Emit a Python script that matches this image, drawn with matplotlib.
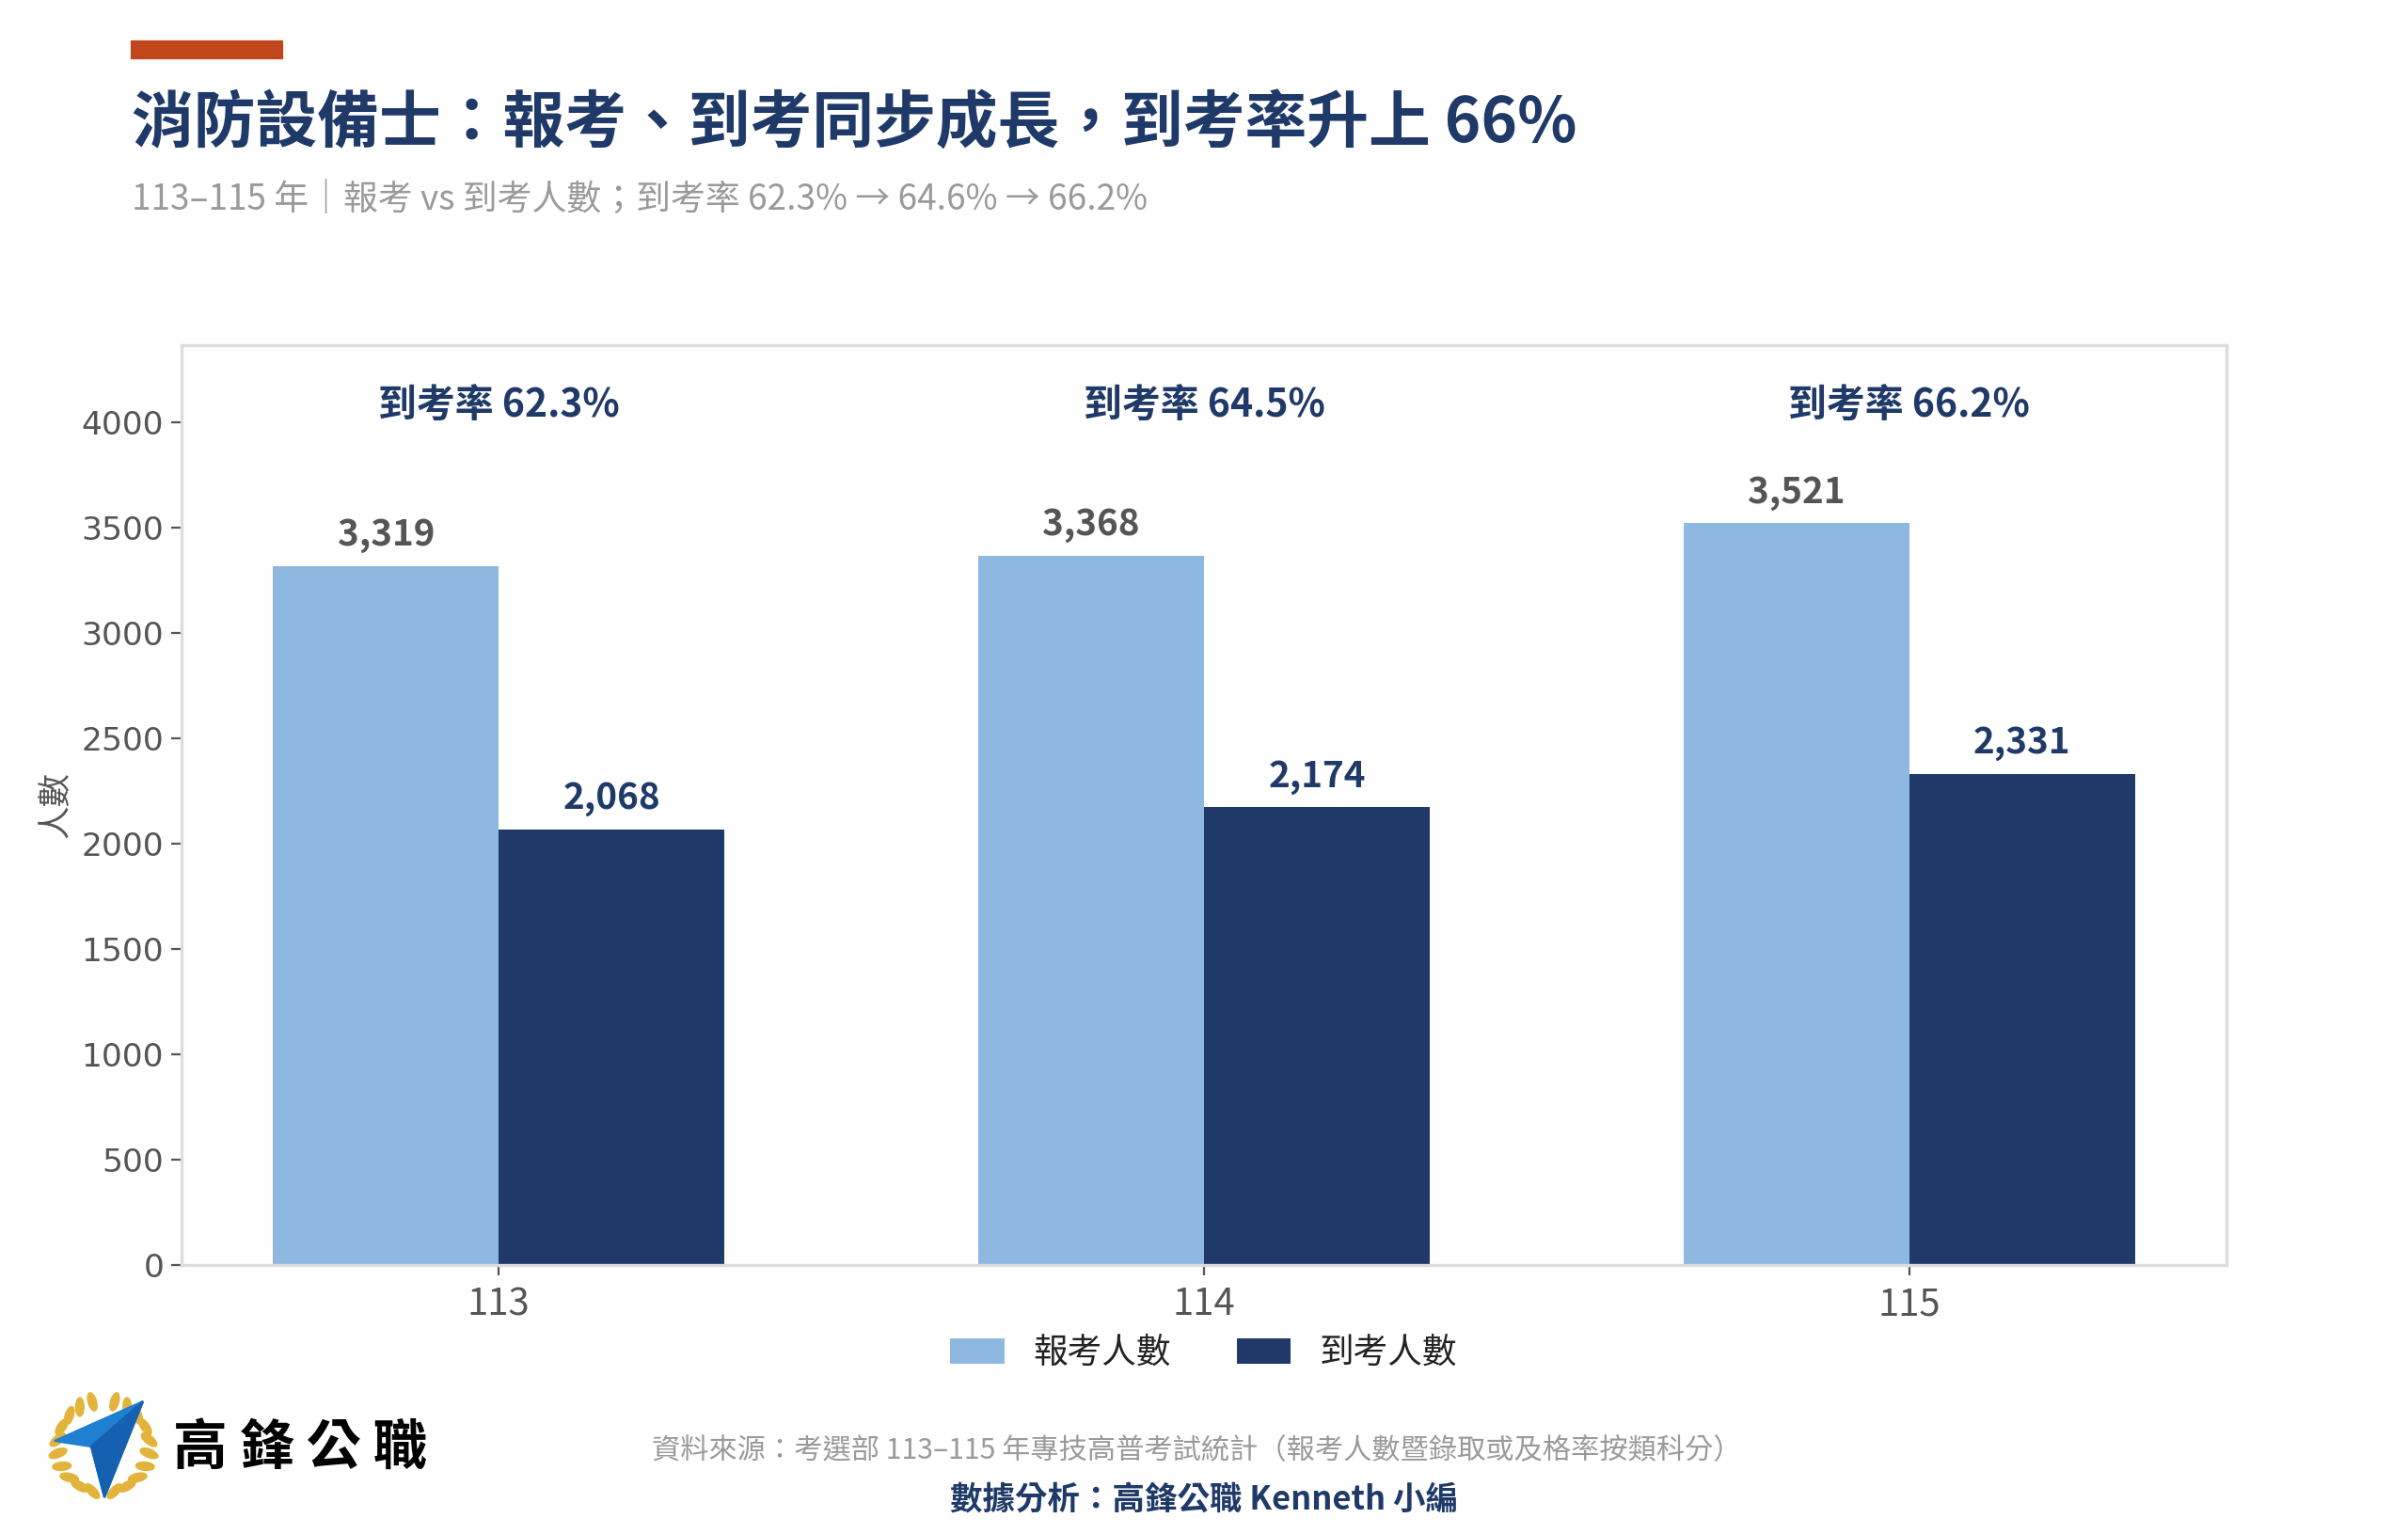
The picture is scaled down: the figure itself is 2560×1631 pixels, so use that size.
import numpy as np
import matplotlib.pyplot as plt
from matplotlib.patches import Rectangle, Polygon, Ellipse

plt.rcParams['font.family'] = ['Noto Sans CJK TC', 'DejaVu Sans']

years = ['113', '114', '115']
applied = [3319, 3368, 3521]
attended = [2068, 2174, 2331]
rates = [62.3, 64.5, 66.2]
series_names = ['報考人數', '到考人數']

light = '#8fb8e0'
navy = '#1f3a68'
gray = '#555555'

fig = plt.figure(figsize=(16, 1631 / 160), dpi=160)

# decoration layer in pixel coords
deco = fig.add_axes([0, 0, 1, 1], zorder=-1)
deco.set_xlim(0, 2560)
deco.set_ylim(1631, 0)
deco.axis('off')
deco.add_patch(Rectangle((140, 44), 160, 18, color='#c2461b'))

# logo: laurel + check mark
cx, cy, r = 110, 1538, 49
for side in (-1, 1):
    for a in np.linspace(-76, 76, 10):
        t = np.radians(a)
        px = cx + side * r * np.cos(t)
        py = cy - r * np.sin(t)
        ang = (a + 90) if side == 1 else -(a + 90)
        deco.add_patch(Ellipse((px, py), 8, 19, angle=ang + side * 30,
                               color='#e3b43c'))
deco.add_patch(Polygon([(58, 1532), (152, 1490), (111, 1592), (97, 1538)],
                       closed=True, color='#1f7fd0'))
deco.add_patch(Polygon([(97, 1538), (152, 1490), (111, 1592)],
                       closed=True, color='#1560b0'))
deco.text(184, 1540, '高 鋒 公 職', fontsize=26, fontweight='heavy',
          color='black', va='center', ha='left')

fig.text(0.0547, 0.9197, '消防設備士：報考、到考同步成長，到考率升上 66%',
         fontsize=29.6, fontweight='bold', color=navy, va='center', ha='left')
fig.text(0.0547, 0.870, '113–115 年｜報考 vs 到考人數；到考率 62.3% → 64.6% → 66.2%',
         fontsize=16.6, color='#9a9a9a', va='center', ha='left')

ax = fig.add_axes([0.0754, 0.1754, 0.8492, 0.5996])
x = np.arange(len(years))
w = 0.32
ax.bar(x - w / 2, applied, w, color=light, label=series_names[0])
ax.bar(x + w / 2, attended, w, color=navy, label=series_names[1])

for xi, v in zip(x, applied):
    ax.annotate(f'{v:,}', (xi - w / 2, v), xytext=(0, 6), textcoords='offset points',
                ha='center', va='bottom', fontsize=17.4, fontweight='bold', color=gray)
for xi, v in zip(x, attended):
    ax.annotate(f'{v:,}', (xi + w / 2, v), xytext=(0, 6), textcoords='offset points',
                ha='center', va='bottom', fontsize=17.4, fontweight='bold', color=navy)
top = max(applied)
for xi, rt in zip(x, rates):
    ax.text(xi, top * 1.158, f'到考率 {rt}%', ha='center', va='center',
            fontsize=18.4, fontweight='bold', color=navy)

ax.set_xlim(-0.45, 2.45)
ax.set_ylim(0, top * 1.24)
ax.set_xticks(x)
ax.set_xticklabels(years, fontsize=18, color=gray)
ax.set_yticks(np.arange(0, 4001, 500))
ax.set_yticklabels([str(v) for v in range(0, 4001, 500)], fontsize=15.5,
                   color=gray, family='DejaVu Sans')
ax.tick_params(axis='both', colors=gray, length=5, width=1)
ax.tick_params(axis='x', pad=5)
for s in ax.spines.values():
    s.set_color('#dcdcdc')
    s.set_linewidth(1.5)
ax.set_ylabel('人數', fontsize=16, color=gray)
ax.yaxis.set_label_coords(-0.053, 0.5)

fig.legend(loc='center', bbox_to_anchor=(0.5, 0.118), ncol=2, frameon=False,
           fontsize=16.5, handlelength=1.56, handleheight=0.75, handletextpad=0.85,
           columnspacing=1.9, labelcolor='#222222')

fig.text(0.497, 0.054, '資料來源：考選部 113–115 年專技高普考試統計（報考人數暨錄取或及格率按類科分）',
         fontsize=13.6, color='#9a9a9a', ha='center', va='center')
fig.text(0.5, 0.022, '數據分析：高鋒公職 Kenneth 小編',
         fontsize=15.5, fontweight='bold', color=navy, ha='center', va='center')

fig.savefig('out.png', dpi=160)
